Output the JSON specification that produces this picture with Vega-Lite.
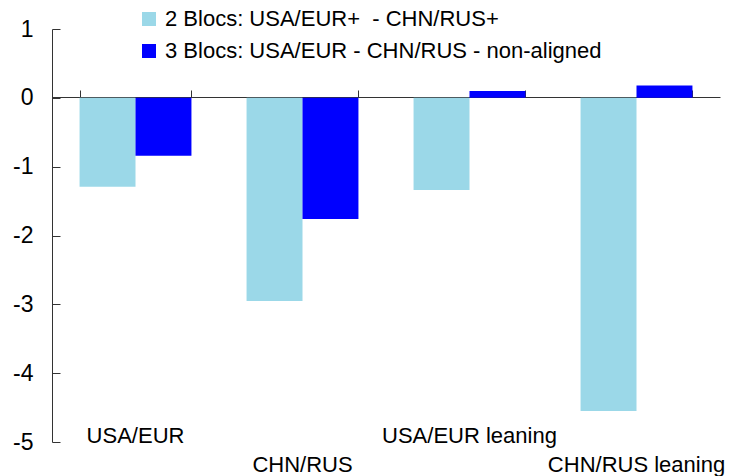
{
  "$schema": "https://vega.github.io/schema/vega-lite/v6.json",
  "width": 668,
  "height": 413,
  "autosize": "none",
  "padding": {"left": 52, "top": 29, "right": 11, "bottom": 34},
  "background": "white",
  "config": {
    "view": {"stroke": null},
    "font": "Liberation Sans",
    "axis": {"grid": false, "domainColor": "#333333", "tickColor": "#333333", "labelColor": "#000000", "labelFont": "Liberation Sans"},
    "legend": {"labelColor": "#000000", "labelFont": "Liberation Sans"}
  },
  "data": {
    "values": [
      {"cat": "USA/EUR", "series": "2 Blocs: USA/EUR+\u00a0 - CHN/RUS+", "value": -1.29},
      {"cat": "USA/EUR", "series": "3 Blocs: USA/EUR - CHN/RUS - non-aligned", "value": -0.84},
      {"cat": "CHN/RUS", "series": "2 Blocs: USA/EUR+\u00a0 - CHN/RUS+", "value": -2.95},
      {"cat": "CHN/RUS", "series": "3 Blocs: USA/EUR - CHN/RUS - non-aligned", "value": -1.76},
      {"cat": "USA/EUR leaning", "series": "2 Blocs: USA/EUR+\u00a0 - CHN/RUS+", "value": -1.34},
      {"cat": "USA/EUR leaning", "series": "3 Blocs: USA/EUR - CHN/RUS - non-aligned", "value": 0.1},
      {"cat": "CHN/RUS leaning", "series": "2 Blocs: USA/EUR+\u00a0 - CHN/RUS+", "value": -4.55},
      {"cat": "CHN/RUS leaning", "series": "3 Blocs: USA/EUR - CHN/RUS - non-aligned", "value": 0.18}
    ]
  },
  "layer": [
    {
      "mark": {"type": "bar"},
      "encoding": {
        "x": {
          "field": "cat", "type": "nominal", "sort": null,
          "scale": {"paddingInner": 0.33, "paddingOuter": 0.165},
          "axis": {
            "orient": "bottom", "title": null, "domain": false, "ticks": false,
            "labelAngle": 0, "labelFontSize": 22, "labelBaseline": "alphabetic",
            "labelPadding": {"condition": {"test": "indexof(datum.value, 'CHN') === 0", "value": 29}, "value": 0}
          }
        },
        "xOffset": {"field": "series", "type": "nominal", "sort": null},
        "y": {
          "field": "value", "type": "quantitative",
          "scale": {"domain": [-5, 1], "nice": false, "zero": false},
          "axis": {"title": null, "values": [-5, -4, -3, -2, -1, 0, 1], "tickSize": -8, "labelPadding": 27, "labelFontSize": 23, "labelExpr": "replace(datum.label, '\u2212', '-')", "domain": true}
        },
        "color": {
          "field": "series", "type": "nominal", "sort": null,
          "scale": {"range": ["#9BD8E8", "#0000FF"]},
          "legend": {
            "title": null, "orient": "none", "legendX": 86, "legendY": -21,
            "symbolType": "square", "symbolSize": 196, "symbolStrokeWidth": 0,
            "labelFontSize": 22, "labelOffset": 5, "rowPadding": 10, "padding": 0, "labelLimit": 600
          }
        }
      }
    },
    {
      "mark": {"type": "rule", "opacity": 0},
      "encoding": {
        "x": {
          "field": "cat", "type": "nominal", "sort": null,
          "axis": {
            "orient": "top", "offset": -68, "title": null, "labels": false,
            "domain": true, "ticks": true, "tickBand": "extent", "tickSize": 7
          }
        }
      }
    }
  ],
  "resolve": {"axis": {"x": "independent"}}
}
